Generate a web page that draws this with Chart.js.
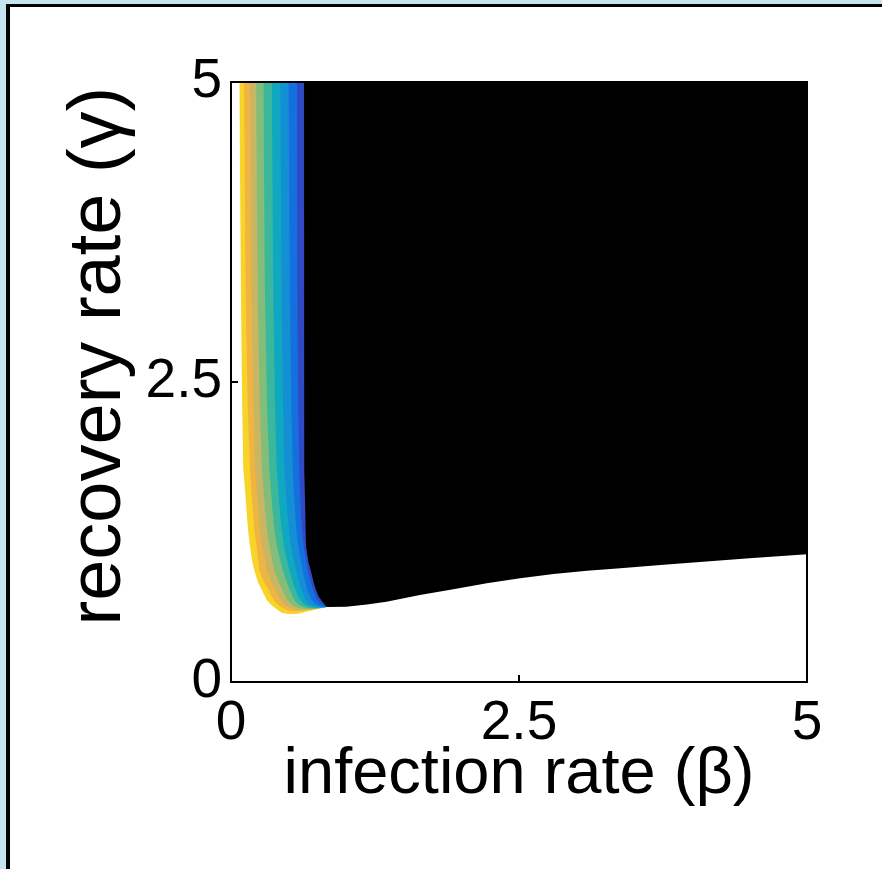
<!DOCTYPE html>
<html>
<head>
<meta charset="utf-8">
<script src="https://cdn.jsdelivr.net/npm/chart.js@4/dist/chart.umd.min.js"></script>
<style>
  html, body { margin: 0; padding: 0; width: 882px; height: 869px; overflow: hidden; background: #c6e4ed; }
  #panel { position: absolute; left: 6px; top: 4px; right: 0; bottom: 0; background: #fff;
           border-left: 4px solid #000; border-top: 3px solid #000; }
  #plot { position: absolute; left: 0; top: 0; }
</style>
</head>
<body>
<div id="panel"></div>
<canvas id="plot" width="882" height="869"></canvas>
<script>
// Axis ticks
const betaTicks = [0, 2.5, 5];
const gammaTicks = [0, 2.5, 5];

// Contour level edges in the (beta, gamma) plane, traced from the top edge
// down around the bend to the junction point. Each region lies above/right of its edge.
const level1 = [[0.072,5],[0.087,3.2],[0.097,2.3],[0.107,1.77],[0.122,1.6],[0.136,1.41],[0.150,1.25],[0.165,1.13],[0.185,1.0],[0.208,0.91],[0.235,0.83],[0.266,0.77],[0.31,0.683],[0.345,0.645],[0.382,0.617],[0.44,0.578],[0.50,0.567],[0.57,0.567],[0.69,0.594],[0.83,0.625]];
const level2 = [[0.113,5],[0.127,3.2],[0.145,2.3],[0.165,1.77],[0.19,1.41],[0.205,1.25],[0.222,1.13],[0.246,0.93],[0.28,0.845],[0.322,0.78],[0.36,0.70],[0.395,0.655],[0.43,0.628],[0.49,0.598],[0.56,0.588],[0.66,0.60],[0.83,0.625]];
const level3 = [[0.165,5],[0.179,3.2],[0.195,2.3],[0.211,1.77],[0.238,1.41],[0.254,1.25],[0.272,1.13],[0.31,0.93],[0.342,0.85],[0.38,0.78],[0.42,0.70],[0.45,0.66],[0.48,0.635],[0.54,0.607],[0.61,0.598],[0.71,0.606],[0.83,0.625]];
const level4 = [[0.217,5],[0.232,3.2],[0.25,2.3],[0.269,1.77],[0.298,1.41],[0.315,1.25],[0.334,1.13],[0.376,0.93],[0.406,0.855],[0.44,0.78],[0.48,0.70],[0.51,0.66],[0.535,0.64],[0.59,0.614],[0.66,0.606],[0.75,0.612],[0.83,0.625]];
const level5 = [[0.281,5],[0.295,3.2],[0.313,2.3],[0.333,1.77],[0.362,1.41],[0.38,1.25],[0.40,1.13],[0.449,0.93],[0.475,0.855],[0.505,0.78],[0.54,0.70],[0.565,0.665],[0.59,0.643],[0.64,0.62],[0.71,0.612],[0.78,0.616],[0.83,0.625]];
const level6 = [[0.354,5],[0.367,3.2],[0.382,2.3],[0.397,1.77],[0.425,1.41],[0.442,1.25],[0.46,1.13],[0.506,0.93],[0.53,0.855],[0.555,0.78],[0.59,0.70],[0.612,0.668],[0.635,0.648],[0.68,0.627],[0.74,0.617],[0.83,0.625]];
const level7 = [[0.427,5],[0.44,3.2],[0.452,2.3],[0.463,1.77],[0.49,1.41],[0.505,1.25],[0.52,1.13],[0.564,0.93],[0.585,0.855],[0.607,0.78],[0.64,0.70],[0.66,0.672],[0.68,0.652],[0.72,0.633],[0.77,0.621],[0.83,0.625]];
const level8 = [[0.499,5],[0.512,3.2],[0.524,2.3],[0.536,1.77],[0.557,1.41],[0.57,1.25],[0.585,1.13],[0.622,0.93],[0.64,0.855],[0.66,0.78],[0.69,0.70],[0.708,0.675],[0.725,0.655],[0.76,0.638],[0.79,0.627],[0.83,0.625]];
const level9 = [[0.572,5],[0.575,3.2],[0.584,2.3],[0.593,1.77],[0.607,1.41],[0.618,1.25],[0.632,1.13],[0.666,0.93],[0.686,0.855],[0.71,0.78],[0.74,0.70],[0.755,0.678],[0.77,0.658],[0.80,0.64],[0.83,0.625]];
// Edge of the saturated (black) region, continuing along its lower boundary to beta = 5
const saturatedEdge = [[0.634,5],[0.635,3.2],[0.637,1.77],[0.645,1.41],[0.648,1.25],[0.652,1.13],[0.672,1.0],[0.70,0.90],[0.72,0.82],[0.74,0.76],[0.76,0.715],[0.785,0.68],[0.81,0.65],[0.83,0.625],[1.0,0.628],[1.18,0.645],[1.35,0.669],[1.5,0.697],[1.64,0.725],[1.93,0.773],[2.22,0.823],[2.51,0.864],[2.8,0.90],[3.09,0.928],[3.38,0.948],[3.7,0.972],[4.07,1.0],[4.5,1.032],[5,1.064]];

// Fill colours, outermost level first
const levelColors = ['#f8d428', '#f0b443', '#c8b663', '#84bd7a', '#3bb89b', '#10a7c1', '#138fd4', '#1570df', '#3049c5', '#000000'];

const FONT = "'Liberation Sans', Arial, Helvetica, sans-serif";
const edges = [level1, level2, level3, level4, level5, level6, level7, level8, level9, saturatedEdge];

const datasets = edges.map((pts, i) => ({
  data: pts.map(([x, y]) => ({ x, y })),
  backgroundColor: levelColors[i],
  borderWidth: 0,
  pointRadius: 0,
  fill: 'end',
  tension: 0,
  order: edges.length - i
}));

// Closes the axes box along the top and right edges
const axesBox = {
  id: 'axesBox',
  afterDatasetsDraw(chart) {
    const { ctx, chartArea: a } = chart;
    ctx.save();
    ctx.strokeStyle = '#000';
    ctx.lineWidth = 2;
    ctx.beginPath();
    ctx.moveTo(a.left, a.top);
    ctx.lineTo(a.right, a.top);
    ctx.lineTo(a.right, a.bottom);
    ctx.stroke();
    ctx.restore();
  }
};

new Chart(document.getElementById('plot'), {
  type: 'line',
  data: { datasets },
  plugins: [axesBox],
  options: {
    responsive: false,
    animation: false,
    events: [],
    layout: { padding: { top: 82, right: 75, left: 0, bottom: 0 } },
    plugins: { legend: { display: false }, tooltip: { enabled: false } },
    scales: {
      x: {
        type: 'linear', min: 0, max: 5,
        afterBuildTicks: s => { s.ticks = betaTicks.map(v => ({ value: v })); },
        afterFit: s => { s.height = 187; },
        grid: { drawOnChartArea: false, tickLength: -7, color: '#000', lineWidth: 2, z: 1 },
        border: { color: '#000', width: 2, z: 1 },
        ticks: { padding: 16, color: '#000', autoSkip: false, maxRotation: 0,
                 font: { family: FONT, size: 55, lineHeight: 1.2 }, callback: v => String(v) },
        title: { display: true, text: 'infection rate (β)', color: '#000',
                 font: { family: FONT, size: 65, lineHeight: 1.2 }, padding: { top: 0, bottom: 55 } }
      },
      y: {
        type: 'linear', min: 0, max: 5,
        afterBuildTicks: s => { s.ticks = gammaTicks.map(v => ({ value: v })); },
        afterFit: s => { s.width = 231; },
        grid: { drawOnChartArea: false, tickLength: -7, color: '#000', lineWidth: 2, z: 1 },
        border: { color: '#000', width: 2, z: 1 },
        ticks: { padding: 16, color: '#000', autoSkip: false,
                 font: { family: FONT, size: 55, lineHeight: 1.2 }, callback: v => String(v) },
        title: { display: true, text: '\u2002\u2009recovery rate (γ)', color: '#000',
                 font: { family: FONT, size: 74, lineHeight: 1.2 }, padding: { top: 55, bottom: 0 } }
      }
    }
  }
});
</script>
</body>
</html>
